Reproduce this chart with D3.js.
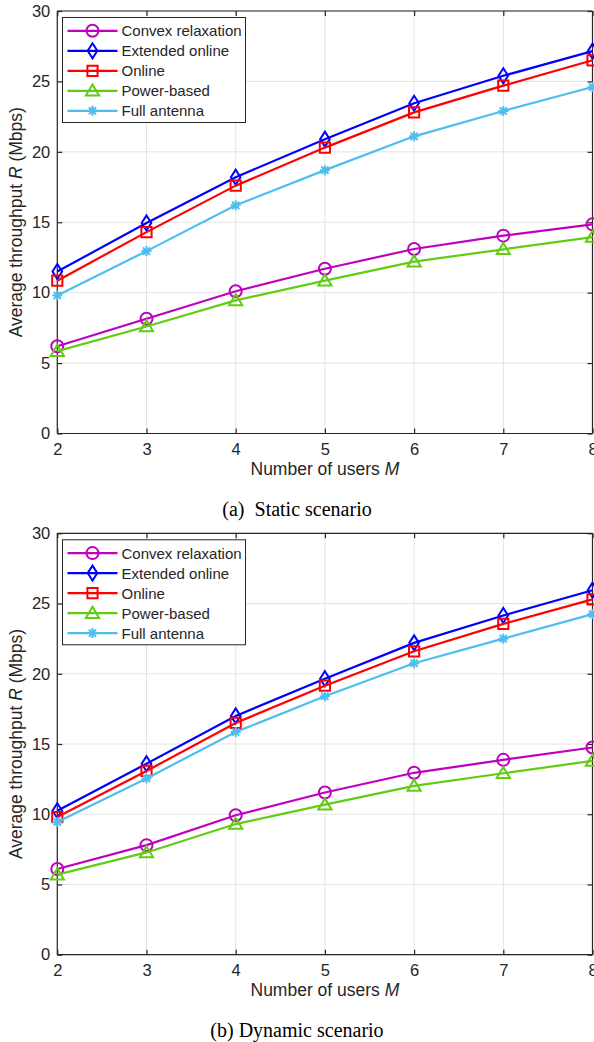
<!DOCTYPE html>
<html>
<head>
<meta charset="utf-8">
<script src="https://cdn.jsdelivr.net/npm/d3@7"></script>
<style>
  body { margin: 0; background: #fff; }
  svg { display: block; }
  text { font-family: "Liberation Sans", Arial, sans-serif; fill: #262626; }
  .caption { font-family: "Liberation Serif", "Times New Roman", serif; fill: #000; }
</style>
</head>
<body>
<script>
// number of users M
var users = [2, 3, 4, 5, 6, 7, 8];
var yTicks = [0, 5, 10, 15, 20, 25, 30];

var seriesNames = ["Convex relaxation", "Extended online", "Online", "Power-based", "Full antenna"];
var seriesColors = ["#bf00bf", "#0000ff", "#ff0000", "#62cc14", "#4dbeee"];
var seriesMarkers = ["circle", "diamond", "square", "triangle", "asterisk"];

// (a) static scenario
var staticConvex   = [6.2, 8.15, 10.1, 11.7, 13.1, 14.05, 14.85];
var staticExtended = [11.5, 14.95, 18.2, 20.9, 23.45, 25.4, 27.15];
var staticOnline   = [10.85, 14.3, 17.6, 20.3, 22.8, 24.7, 26.5];
var staticPower    = [5.85, 7.6, 9.45, 10.85, 12.2, 13.08, 13.95];
var staticFull     = [9.8, 12.95, 16.2, 18.7, 21.1, 22.9, 24.6];

// (b) dynamic scenario
var dynConvex   = [6.1, 7.8, 9.93, 11.55, 12.95, 13.87, 14.75];
var dynExtended = [10.25, 13.6, 17.0, 19.65, 22.2, 24.15, 25.95];
var dynOnline   = [9.8, 13.08, 16.5, 19.15, 21.6, 23.55, 25.3];
var dynPower    = [5.7, 7.28, 9.3, 10.68, 12.02, 12.92, 13.8];
var dynFull     = [9.45, 12.55, 15.85, 18.4, 20.75, 22.5, 24.25];

var W = 594, H = 1042;
var svg = d3.select("body").append("svg")
    .attr("width", W)
    .attr("height", H);

var axisColor = "#262626";
var x = d3.scaleLinear().domain([2, 8]).range([57.3, 592.5]);

function markerPath(type, s) {
    var r = s / 2;
    if (type == "circle") {
        return "M" + r + ",0A" + r + "," + r + " 0 1,1 " + (-r) + ",0A" + r + "," + r + " 0 1,1 " + r + ",0Z";
    }
    if (type == "diamond") {
        var h = r * 1.25;
        return "M0," + (-h) + "L" + (r * 0.8) + ",0L0," + h + "L" + (-r * 0.8) + ",0Z";
    }
    if (type == "square") {
        var q = r * 0.85;
        return "M" + (-q) + "," + (-q) + "H" + q + "V" + q + "H" + (-q) + "Z";
    }
    if (type == "triangle") {
        return "M0," + (-r * 1.05) + "L" + (r * 1.1) + "," + (r * 0.8) + "L" + (-r * 1.1) + "," + (r * 0.8) + "Z";
    }
    // asterisk: plus + cross
    var d = r * 0.72;
    return "M" + (-r) + ",0H" + r + "M0," + (-r) + "V" + r +
        "M" + (-d) + "," + (-d) + "L" + d + "," + d + "M" + (-d) + "," + d + "L" + d + "," + (-d);
}

function drawPanel(top, bottom, seriesData, caption) {
    var y = d3.scaleLinear().domain([0, 30]).range([bottom, top]);
    var g = svg.append("g");
    var x0 = x.range()[0], x1 = x.range()[1];

    // grid
    g.append("g").selectAll("line.vg").data(users).enter().append("line")
        .attr("x1", function(d) { return x(d); }).attr("x2", function(d) { return x(d); })
        .attr("y1", top).attr("y2", bottom)
        .attr("stroke", "#e3e3e3").attr("stroke-width", 1);
    g.append("g").selectAll("line.hg").data(yTicks).enter().append("line")
        .attr("x1", x0).attr("x2", x1)
        .attr("y1", function(d) { return y(d); }).attr("y2", function(d) { return y(d); })
        .attr("stroke", "#e3e3e3").attr("stroke-width", 1);

    // axes, ticks pointing inward like matlab
    var ax = g.append("g").attr("transform", "translate(0," + bottom + ")")
        .call(d3.axisBottom(x).tickValues(users).tickSize(-5).tickPadding(10).tickFormat(d3.format("d")));
    var axTop = g.append("g").attr("transform", "translate(0," + top + ")")
        .call(d3.axisTop(x).tickValues(users).tickSize(-5).tickFormat(""));
    var ay = g.append("g").attr("transform", "translate(" + x0 + ",0)")
        .call(d3.axisLeft(y).tickValues(yTicks).tickSize(-5).tickPadding(7));
    var ayR = g.append("g").attr("transform", "translate(" + x1 + ",0)")
        .call(d3.axisRight(y).tickValues(yTicks).tickSize(-5).tickFormat(""));
    [ax, axTop, ay, ayR].forEach(function(a) {
        a.selectAll("path.domain").attr("stroke", axisColor).attr("stroke-width", 1.2);
        a.selectAll(".tick line").attr("stroke", axisColor).attr("stroke-width", 1.2);
        a.selectAll("text").attr("fill", axisColor).attr("font-size", 16.5)
            .attr("font-family", "'Liberation Sans', Arial, sans-serif");
    });
    ax.selectAll("path.domain").attr("d", "M" + x0 + ",0H" + x1);
    axTop.selectAll("path.domain").attr("d", "M" + x0 + ",0H" + x1);
    ay.selectAll("path.domain").attr("d", "M0," + bottom + "V" + top);
    ayR.selectAll("path.domain").attr("d", "M0," + bottom + "V" + top);

    // lines + markers
    var line = d3.line().x(function(d, i) { return x(users[i]); }).y(function(d) { return y(d); });
    seriesData.forEach(function(vals, k) {
        g.append("path").datum(vals)
            .attr("d", line)
            .attr("fill", "none")
            .attr("stroke", seriesColors[k])
            .attr("stroke-width", 2.2);
        g.append("g").selectAll("path").data(vals).enter().append("path")
            .attr("transform", function(d, i) { return "translate(" + x(users[i]) + "," + y(d) + ")"; })
            .attr("d", markerPath(seriesMarkers[k], seriesMarkers[k] == "asterisk" ? 10 : 12))
            .attr("fill", "none")
            .attr("stroke", seriesColors[k])
            .attr("stroke-width", 2);
    });

    // axis labels
    var xl = g.append("text")
        .attr("x", (x0 + x1) / 2).attr("y", bottom + 41)
        .attr("text-anchor", "middle").attr("font-size", 17.5);
    xl.append("tspan").text("Number of users ");
    xl.append("tspan").attr("font-style", "italic").text("M");

    var yl = g.append("text")
        .attr("transform", "translate(22," + (top + bottom) / 2 + ") rotate(-90)")
        .attr("text-anchor", "middle").attr("font-size", 17.5);
    yl.append("tspan").text("Average throughput ");
    yl.append("tspan").attr("font-style", "italic").text("R");
    yl.append("tspan").text(" (Mbps)");

    // legend
    var lx = 62.5, ly = top + 6.5;
    var lg = g.append("g");
    lg.append("rect").attr("x", lx).attr("y", ly).attr("width", 183).attr("height", 105)
        .attr("fill", "#fff").attr("stroke", axisColor).attr("stroke-width", 1);
    seriesNames.forEach(function(name, k) {
        var cy = ly + 13.3 + k * 20;
        lg.append("line").attr("x1", lx + 5).attr("x2", lx + 55).attr("y1", cy).attr("y2", cy)
            .attr("stroke", seriesColors[k]).attr("stroke-width", 2.2);
        lg.append("path").attr("transform", "translate(" + (lx + 30) + "," + cy + ")")
            .attr("d", markerPath(seriesMarkers[k], seriesMarkers[k] == "asterisk" ? 10 : 12))
            .attr("fill", "none").attr("stroke", seriesColors[k]).attr("stroke-width", 2);
        lg.append("text").attr("x", lx + 59).attr("y", cy + 5.4)
            .attr("font-size", 15).text(name);
    });

    // caption
    svg.append("text").attr("class", "caption")
        .attr("x", 297).attr("y", bottom + 82)
        .attr("text-anchor", "middle").attr("font-size", 20)
        .attr("xml:space", "preserve")
        .text(caption);
}

drawPanel(11, 433.5, [staticConvex, staticExtended, staticOnline, staticPower, staticFull], "(a)  Static scenario");
drawPanel(533.3, 954.7, [dynConvex, dynExtended, dynOnline, dynPower, dynFull], "(b) Dynamic scenario");
</script>
</body>
</html>
